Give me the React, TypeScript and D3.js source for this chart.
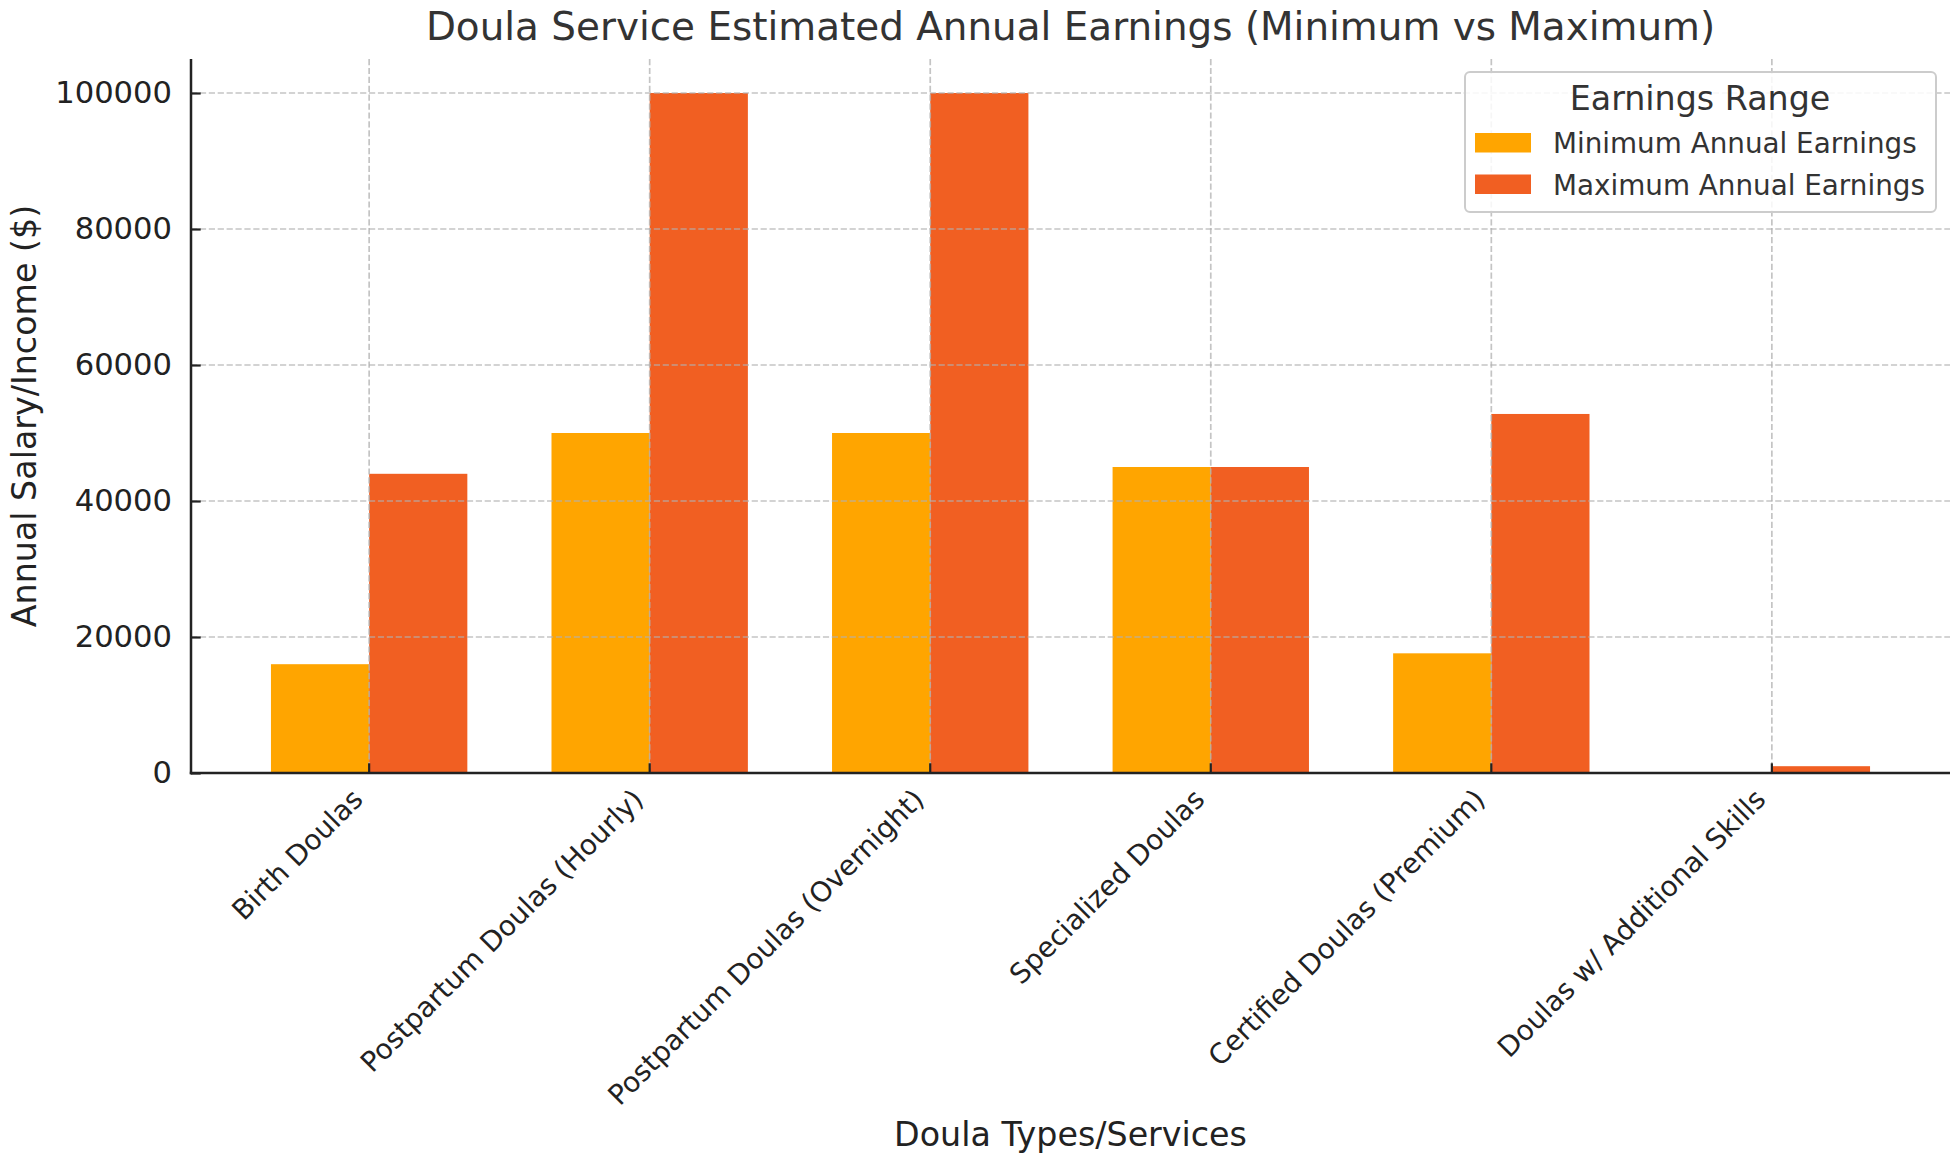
import React, { useEffect, useRef } from 'react'
import * as d3 from 'd3'

const categories = [
  'Birth Doulas',
  'Postpartum Doulas (Hourly)',
  'Postpartum Doulas (Overnight)',
  'Specialized Doulas',
  'Certified Doulas (Premium)',
  'Doulas w/ Additional Skills',
]
const minEarnings = [16000, 50000, 50000, 45000, 17600, 0]
const maxEarnings = [44000, 100000, 100000, 45000, 52800, 1000]
const yTicks = [0, 20000, 40000, 60000, 80000, 100000]
const seriesNames = ['Minimum Annual Earnings', 'Maximum Annual Earnings']
const seriesColors = ['#ffa500', '#f15f22']

const W = 1955
const H = 1163
const FONT = "'DejaVu Sans', sans-serif"

export default function App() {
  const ref = useRef<SVGSVGElement>(null)

  useEffect(() => {
    const svg = d3.select(ref.current)
    svg.selectAll('*').remove()

    const left = 191, right = 1950, top = 59, bottom = 773
    const barW = 0.35

    // matplotlib-ish limits: 5% margin around bars
    const x = d3.scaleLinear().domain([-0.635, categories.length - 1 + 0.635]).range([left, right])
    const y = d3.scaleLinear().domain([0, 105000]).range([bottom, top])

    const g = svg.append('g')

    // bars
    const series = [minEarnings, maxEarnings]
    series.forEach((vals, s) => {
      g.selectAll(null)
        .data(vals)
        .enter()
        .append('rect')
        .attr('x', (d, i) => x(i + (s === 0 ? -barW : 0)))
        .attr('width', x(barW) - x(0))
        .attr('y', d => y(d))
        .attr('height', d => y(0) - y(d))
        .attr('fill', seriesColors[s])
    })

    // grid (drawn over bars like the original)
    const grid = g.append('g')
      .attr('stroke', '#b0b0b0')
      .attr('stroke-opacity', 0.75)
      .attr('stroke-width', 1.7)
      .attr('stroke-dasharray', '6.2,2.7')
    grid.selectAll(null).data(yTicks).enter().append('line')
      .attr('x1', left).attr('x2', right)
      .attr('y1', d => y(d)).attr('y2', d => y(d))
    grid.selectAll(null).data(categories).enter().append('line')
      .attr('x1', (d, i) => x(i)).attr('x2', (d, i) => x(i))
      .attr('y1', top).attr('y2', bottom)

    // y axis
    const yAxis = d3.axisLeft(y).tickValues(yTicks).tickFormat(d3.format('d')).tickSizeInner(-9.7).tickSizeOuter(0).tickPadding(19)
    const ya = g.append('g').attr('transform', `translate(${left},0)`).call(yAxis)
    ya.select('.domain').remove()
    ya.selectAll('.tick line').attr('stroke', '#222').attr('stroke-width', 2.2)
    ya.selectAll('.tick text').attr('font-family', FONT).attr('font-size', 30.6).attr('fill', '#222')

    // x axis ticks (inward)
    g.selectAll(null).data(categories).enter().append('line')
      .attr('x1', (d, i) => x(i)).attr('x2', (d, i) => x(i))
      .attr('y1', bottom).attr('y2', bottom - 9.7)
      .attr('stroke', '#222').attr('stroke-width', 2.2)

    // spines
    g.append('line').attr('x1', left).attr('x2', left).attr('y1', top).attr('y2', bottom + 1.2)
      .attr('stroke', '#222').attr('stroke-width', 2.5)
    g.append('line').attr('x1', left - 1.2).attr('x2', right).attr('y1', bottom).attr('y2', bottom)
      .attr('stroke', '#222').attr('stroke-width', 2.5)

    // x tick labels rotated 45
    const fs = 27.8
    g.selectAll(null).data(categories).enter().append('text')
      .attr('transform', (d, i) => `translate(${x(i) - 0.707 * 0.236 * fs},${bottom + 9.7 + 0.707 * 0.93 * fs}) rotate(-45)`)
      .attr('text-anchor', 'end')
      .attr('font-family', FONT)
      .attr('font-size', fs)
      .attr('fill', '#222')
      .text(d => d)

    // labels and title
    svg.append('text')
      .attr('x', (left + right) / 2).attr('y', 1146)
      .attr('text-anchor', 'middle').attr('font-family', FONT).attr('font-size', 33.3).attr('fill', '#222')
      .text('Doula Types/Services')
    svg.append('text')
      .attr('transform', `translate(36,${(top + bottom) / 2}) rotate(-90)`)
      .attr('text-anchor', 'middle').attr('font-family', FONT).attr('font-size', 33.3).attr('fill', '#222')
      .text('Annual Salary/Income ($)')
    svg.append('text')
      .attr('x', (left + right) / 2).attr('y', 40)
      .attr('text-anchor', 'middle').attr('font-family', FONT).attr('font-size', 38.9).attr('fill', '#333')
      .text('Doula Service Estimated Annual Earnings (Minimum vs Maximum)')

    // legend
    const lg = svg.append('g').attr('transform', 'translate(1465,72)')
    lg.append('rect').attr('width', 471).attr('height', 140).attr('rx', 5)
      .attr('fill', 'white').attr('fill-opacity', 0.85).attr('stroke', '#cccccc').attr('stroke-width', 2)
    lg.append('text').attr('x', 235).attr('y', 38)
      .attr('text-anchor', 'middle').attr('font-family', FONT).attr('font-size', 33.3).attr('fill', '#333')
      .text('Earnings Range')
    seriesNames.forEach((name, i) => {
      const row = lg.append('g').attr('transform', `translate(10,${71 + i * 41.5})`)
      row.append('rect').attr('x', 0).attr('y', -10).attr('width', 56).attr('height', 19.5).attr('fill', seriesColors[i])
      row.append('text').attr('x', 78).attr('y', 10).attr('font-family', FONT).attr('font-size', 27.8).attr('fill', '#333')
        .text(name)
    })
  }, [])

  return (
    <svg ref={ref} width={W} height={H} style={{ position: 'absolute', left: 0, top: 0, background: 'white' }} />
  )
}
